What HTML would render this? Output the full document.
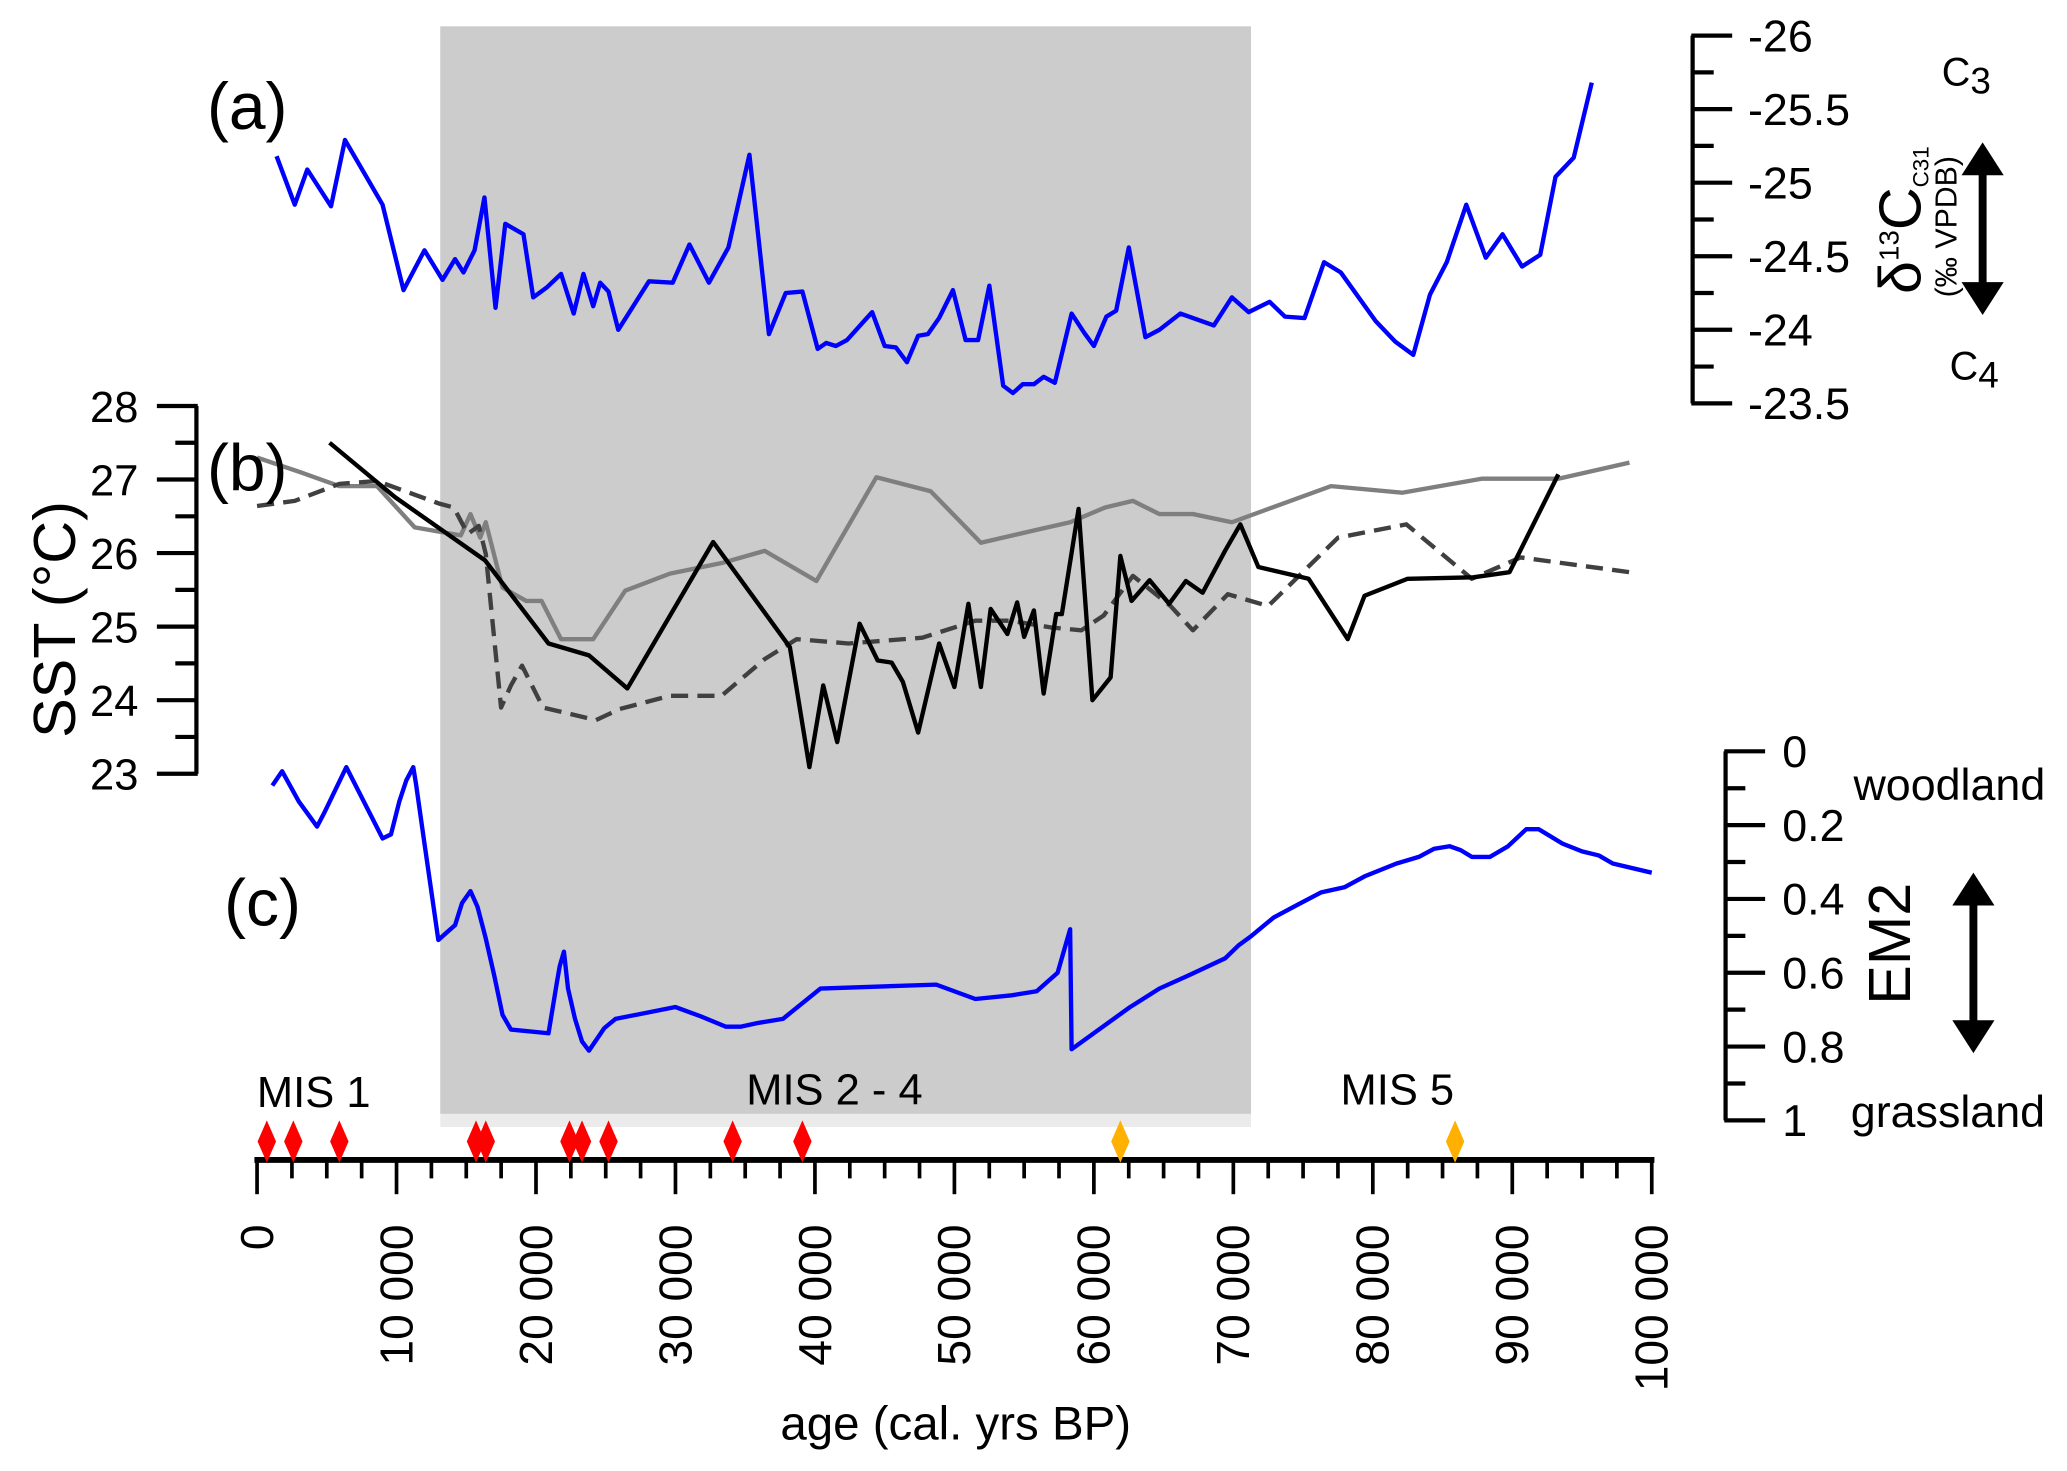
<!DOCTYPE html>
<html><head><meta charset="utf-8"><style>
html,body{margin:0;padding:0;background:#fff;}
svg{display:block;font-family:"Liberation Sans",Arial,sans-serif;}
</style></head><body>
<svg id="chart" width="2067" height="1471" viewBox="0 0 1568 1116" preserveAspectRatio="none" xmlns="http://www.w3.org/2000/svg">
<rect x="0" y="0" width="1568" height="1116" fill="#fff"/>
<rect x="334" y="20" width="615" height="835" fill="#ebebeb"/>
<rect x="334" y="20" width="615" height="825" fill="#cccccc"/>
<g id="axes"></g>
<g id="series"></g>
<text x="157" y="98" font-size="50">(a)</text>
<text x="157" y="372" font-size="50">(b)</text>
<text x="170" y="702" font-size="50">(c)</text>
<text x="238" y="840" font-size="33" text-anchor="middle">MIS 1</text>
<text x="633" y="838" font-size="33" text-anchor="middle">MIS 2 - 4</text>
<text x="1060" y="838" font-size="33" text-anchor="middle">MIS 5</text>
<text x="725" y="1092" font-size="36" text-anchor="middle">age (cal. yrs BP)</text>
<text transform="translate(57,470) rotate(-90)" font-size="45" text-anchor="middle">SST (°C)</text>
<text transform="translate(1449,716) rotate(-90)" font-size="45" text-anchor="middle">EM2</text>
<text transform="translate(1457,167) rotate(-90)" text-anchor="middle" font-size="45">δ<tspan font-size="21" dy="-17">13</tspan><tspan dy="17">C</tspan><tspan font-size="17" dy="6">C31</tspan></text>
<text transform="translate(1484,172) rotate(-90)" font-size="23" text-anchor="middle">(‰ VPDB)</text>
<text x="1473" y="65" font-size="30">C<tspan font-size="28" dy="6">3</tspan></text>
<text x="1479" y="288" font-size="30">C<tspan font-size="28" dy="6">4</tspan></text>
<text x="1406" y="607" font-size="34">woodland</text>
<text x="1404" y="855" font-size="34">grassland</text>
<g>
<line x1="1504" y1="125" x2="1504" y2="222" stroke="#000" stroke-width="6"/>
<polygon points="1504,108 1520,133 1488,133" fill="#000"/>
<polygon points="1504,239 1520,214 1488,214" fill="#000"/>
</g>
<g>
<line x1="1497" y1="680" x2="1497" y2="782" stroke="#000" stroke-width="6"/>
<polygon points="1497,662 1513,687 1481,687" fill="#000"/>
<polygon points="1497,799 1513,774 1481,774" fill="#000"/>
</g>
</svg>
<script>
// ---- data ----
const d13cAges=[1400,2700,3600,5300,6300,9000,10500,12000,13300,14200,14800,15600,16300,17100,17800,19100,19800,20800,21800,22700,23400,24100,24600,25200,25900,28100,29800,31000,32400,33800,35300,36700,37900,39100,40200,40800,41500,42300,44100,45000,45800,46600,47400,48100,48900,49900,50800,51700,52500,53500,54200,54900,55700,56400,57200,58400,59300,60000,60900,61600,62500,63700,64700,66200,68600,69900,71100,72600,73700,75100,76500,77700,80200,81600,82900,84100,85300,86700,88100,89300,90700,92000,93100,94400,95700];
const d13cValues=[-25.18,-24.85,-25.09,-24.84,-25.29,-24.85,-24.27,-24.54,-24.34,-24.48,-24.39,-24.54,-24.90,-24.15,-24.72,-24.65,-24.22,-24.29,-24.38,-24.11,-24.38,-24.16,-24.32,-24.26,-24.00,-24.33,-24.32,-24.58,-24.32,-24.56,-25.19,-23.97,-24.25,-24.26,-23.87,-23.91,-23.89,-23.93,-24.12,-23.89,-23.88,-23.78,-23.96,-23.97,-24.08,-24.27,-23.93,-23.93,-24.30,-23.62,-23.57,-23.63,-23.63,-23.68,-23.64,-24.11,-23.98,-23.89,-24.09,-24.13,-24.56,-23.95,-24.00,-24.11,-24.03,-24.22,-24.12,-24.19,-24.09,-24.08,-24.46,-24.39,-24.06,-23.92,-23.83,-24.24,-24.46,-24.85,-24.49,-24.65,-24.43,-24.51,-25.04,-25.17,-25.68];
const sstBlackAges=[5200,9900,16350,20900,23800,26550,32700,38200,39600,40600,41600,43200,44500,45500,46300,47400,48900,50000,51000,51900,52600,53800,54500,55000,55700,56400,57300,57700,58900,59900,61200,61900,62700,64000,65400,66600,67800,69400,70500,71800,75400,78200,79400,82500,87200,89800,93300];
const sstBlackValues=[27.50,26.76,25.90,24.77,24.61,24.16,26.15,24.72,23.09,24.20,23.43,25.04,24.54,24.51,24.25,23.56,24.77,24.18,25.31,24.18,25.24,24.90,25.33,24.86,25.22,24.09,25.17,25.17,26.60,24.00,24.31,25.96,25.35,25.63,25.31,25.62,25.46,26.03,26.39,25.81,25.65,24.83,25.42,25.65,25.67,25.74,27.07];
const sstGrayAges=[0,3100,5900,8600,11300,14600,15300,16000,16400,17600,19300,20400,21800,24100,26400,29600,33400,36400,40100,44400,48300,51900,56200,58300,60800,62800,64700,67100,69900,77000,82100,87800,93300,98400];
const sstGrayValues=[27.30,27.10,26.91,26.91,26.35,26.24,26.53,26.21,26.42,25.53,25.35,25.35,24.83,24.83,25.49,25.72,25.87,26.03,25.62,27.03,26.84,26.14,26.33,26.42,26.62,26.71,26.53,26.53,26.42,26.91,26.82,27.01,27.01,27.23];
const sstDashAges=[0,2700,5900,8600,13100,14100,15100,15900,16400,17500,18200,19000,20500,24300,26000,29600,33300,36400,38700,42400,47700,51500,54000,56900,59100,60700,62800,65500,67100,69600,72500,77500,82400,87100,90600,98400];
const sstDashValues=[26.64,26.71,26.94,26.98,26.67,26.62,26.26,26.37,25.99,23.90,24.20,24.47,23.90,23.73,23.88,24.06,24.06,24.56,24.83,24.77,24.85,25.08,25.08,24.99,24.95,25.15,25.69,25.28,24.95,25.44,25.28,26.21,26.39,25.65,25.94,25.74];
const em2Ages=[1100,1800,3000,4300,4800,6400,9000,9600,10200,10700,11200,11400,12000,13000,14200,14700,15300,15800,16400,17000,17600,18200,20900,21500,21700,22000,22300,22800,23300,23800,24900,25700,30000,31800,33600,34700,35900,37700,40400,48700,51500,54100,55900,57400,58300,58400,60500,62600,64700,66800,69400,70400,71300,72900,74700,76300,78000,79400,81700,83300,84400,85500,86300,87100,88400,89700,91000,91900,93600,95000,96200,97200,100000];
const em2Values=[0.093,0.054,0.136,0.204,0.168,0.043,0.236,0.225,0.136,0.079,0.043,0.089,0.25,0.511,0.471,0.411,0.379,0.421,0.507,0.607,0.714,0.754,0.764,0.625,0.582,0.543,0.643,0.725,0.786,0.811,0.75,0.725,0.693,0.718,0.746,0.746,0.736,0.725,0.643,0.632,0.671,0.661,0.65,0.6,0.482,0.807,0.75,0.693,0.643,0.607,0.561,0.525,0.5,0.45,0.414,0.382,0.368,0.339,0.304,0.286,0.264,0.257,0.268,0.286,0.286,0.257,0.211,0.211,0.25,0.271,0.282,0.304,0.329];
const datingRedAges=[700,2600,5900,15700,16400,22400,23300,25200,34100,39100];
const datingOrangeAges=[61900,85900];
const ageTicks=[0,10000,20000,30000,40000,50000,60000,70000,80000,90000,100000];
const ageTickLabels=["0","10 000","20 000","30 000","40 000","50 000","60 000","70 000","80 000","90 000","100 000"];
const d13cTicks=[-26,-25.5,-25,-24.5,-24,-23.5];
const sstTicks=[28,27,26,25,24,23];
const em2Ticks=[0,0.2,0.4,0.6,0.8,1];
const em2TickLabels=["0","0.2","0.4","0.6","0.8","1"];

// ---- scales ----
const xAge=a=>195+a/100000*1058;
const yD13c=v=>27+(v+26)/2.5*279;
const ySst=v=>308+(28-v)*55.8;
const yEm2=v=>570+v*280;

const NS="http://www.w3.org/2000/svg";
const axes=document.getElementById('axes');
const series=document.getElementById('series');
function mk(tag,attrs,parent){const e=document.createElementNS(NS,tag);for(const k in attrs)e.setAttribute(k,attrs[k]);parent.appendChild(e);return e;}

// x axis
const xg=mk('g',{},axes);


mk('line',{x1:193,y1:880,x2:1255,y2:880,stroke:'#000','stroke-width':4.5},xg);
for(let a=0;a<=100000;a+=2500){const maj=a%10000===0;mk('line',{x1:xAge(a),y1:880,x2:xAge(a),y2:maj?906:894,stroke:'#000','stroke-width':2.8},xg);}
ageTicks.forEach((a,i)=>{const t=mk('text',{transform:`translate(${xAge(a)+12},929) rotate(-90)`,'font-size':35,'text-anchor':'end'},xg);t.textContent=ageTickLabels[i];

});

// d13c axis
const ag=mk('g',{},axes);


mk('line',{x1:1284,y1:yD13c(-26),x2:1284,y2:yD13c(-23.5),stroke:'#000','stroke-width':3.2},ag);
for(let v=-26;v<=-23.5+1e-6;v+=0.25){const maj=Math.abs(v*2-Math.round(v*2))<1e-6;mk('line',{x1:1283,y1:yD13c(v),x2:maj?1314:1300,y2:yD13c(v),stroke:'#000','stroke-width':3.2},ag);}
d13cTicks.forEach(v=>{const t=mk('text',{x:1326,y:yD13c(v)+12,'font-size':34},ag);t.textContent=String(v);

});

// sst axis
const bg=mk('g',{},axes);


mk('line',{x1:149,y1:ySst(28),x2:149,y2:ySst(23),stroke:'#000','stroke-width':3.2},bg);
for(let v=23;v<=28+1e-6;v+=0.5){const maj=Math.abs(v-Math.round(v))<1e-6;mk('line',{x1:150,y1:ySst(v),x2:maj?119:133,y2:ySst(v),stroke:'#000','stroke-width':3.2},bg);}
sstTicks.forEach(v=>{const t=mk('text',{x:105,y:ySst(v)+12,'font-size':33,'text-anchor':'end'},bg);t.textContent=String(v);

});

// em2 axis
const cg=mk('g',{},axes);


mk('line',{x1:1309,y1:yEm2(0),x2:1309,y2:yEm2(1),stroke:'#000','stroke-width':3.2},cg);
for(let v=0;v<=1+1e-6;v+=0.1){const maj=Math.round(v*10)%2===0;mk('line',{x1:1308,y1:yEm2(v),x2:maj?1339:1324,y2:yEm2(v),stroke:'#000','stroke-width':3.2},cg);}
em2Ticks.forEach((v,i)=>{const t=mk('text',{x:1352,y:yEm2(v)+12,'font-size':34},cg);t.textContent=em2TickLabels[i];

});

function line(ages,vals,ys,color,w,dash,name){const p=ages.map((a,i)=>`${i?'L':'M'}${xAge(a).toFixed(1)},${ys(vals[i]).toFixed(1)}`).join(' ');const e=mk('path',{d:p,fill:'none',stroke:color,'stroke-width':w,'stroke-linejoin':'round'},series);if(dash)e.setAttribute('stroke-dasharray',dash);

}
line(d13cAges,d13cValues,yD13c,'#0000ff',3.3,null,'d13c-line');
line(sstGrayAges,sstGrayValues,ySst,'#7f7f7f',3.3,null,'sst-gray-line');
line(sstDashAges,sstDashValues,ySst,'#404040',3.3,'13,7','sst-dashed-line');
line(sstBlackAges,sstBlackValues,ySst,'#000',3.3,null,'sst-black-line');
line(em2Ages,em2Values,yEm2,'#0000ff',3.3,null,'em2-line');

function diamonds(ages,color,name){ages.forEach(a=>{const x=xAge(a),y=866;const d=mk('polygon',{points:`${x},${y-16} ${x+7},${y} ${x},${y+16} ${x-7},${y}`,fill:color},series);

});}
diamonds(datingRedAges,'#ff0000','dating-point-red');
diamonds(datingOrangeAges,'#ffb000','dating-point-orange');
</script>
</body></html>
